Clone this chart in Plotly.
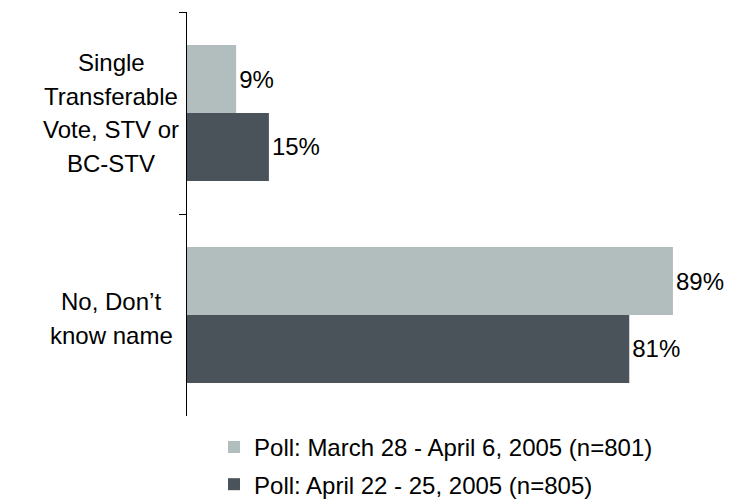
import plotly.graph_objects as go

# data
categories = ["Single Transferable Vote, STV or BC-STV", "No, Don’t know name"]
category_lines = [
    ["Single", "Transferable", "Vote, STV or", "BC-STV"],
    ["No, Don’t", "know name"],
]
series_names = [
    "Poll: March 28 - April 6, 2005 (n=801)",
    "Poll: April 22 - 25, 2005 (n=805)",
]
poll_march = [9, 89]
poll_april = [15, 81]

COLORS = ["#b2bebe", "#4a5359"]
FONT = "Liberation Sans, Arial, sans-serif"
SIZE = 24

fig = go.Figure()
for i, (name, values) in enumerate(zip(series_names, [poll_march, poll_april])):
    fig.add_trace(go.Bar(
        y = categories,
        x = values,
        orientation = "h",
        name = name,
        legendgroup = f"g{i}",
        marker = dict(color = COLORS[i], line = dict(width = 0)),
        text = [f"{v}%" for v in values],
        textposition = "outside",
        constraintext = "none",
        textfont = dict(family = FONT, size = SIZE, color = "black"),
        cliponaxis = False,
    ))

# category labels, one annotation per line to get the wide line spacing
line_step = 0.168
annotations = []
for c, lines in enumerate(category_lines):
    n = len(lines)
    for k, line in enumerate(lines):
        annotations.append(dict(
            x = -0.139, xref = "paper", xanchor = "center",
            y = c + (k - (n - 1) / 2) * line_step + (0.015 if c == 1 else 0),
            yref = "y", yanchor = "middle",
            text = line, showarrow = False,
            font = dict(family = FONT, size = SIZE, color = "black"),
        ))

fig.update_layout(
    width = 749, height = 501,
    # keep the legend from pushing the plot area up
    margin = dict(l = 187, r = 16, t = 12, b = 85, autoexpand = False),
    paper_bgcolor = "white", plot_bgcolor = "white",
    barmode = "group", bargap = 0.327, bargroupgap = 0,
    font = dict(family = FONT, size = SIZE, color = "black"),
    annotations = annotations,
    legend = dict(
        x = 0.0495, xanchor = "left",
        y = -0.022, yanchor = "top",
        traceorder = "grouped", tracegroupgap = 3,
        font = dict(family = FONT, size = SIZE, color = "black"),
        bgcolor = "rgba(0,0,0,0)",
    ),
)
fig.update_xaxes(range = [0, 100], visible = False)
fig.update_yaxes(
    categoryorder = "array", categoryarray = categories,
    range = [1.5, -0.5], showticklabels = False,
    showline = True, linecolor = "black", linewidth = 1,
    ticks = "outside", tickson = "boundaries", ticklen = 7, tickcolor = "black",
    showgrid = False, zeroline = False,
)

# the page body has a default 8px margin; drop it so the figure sits at 0,0
fig.write_html(
    "out.html",
    config = {"displayModeBar": False},
    post_script = "document.body.style.margin = '0';",
)
